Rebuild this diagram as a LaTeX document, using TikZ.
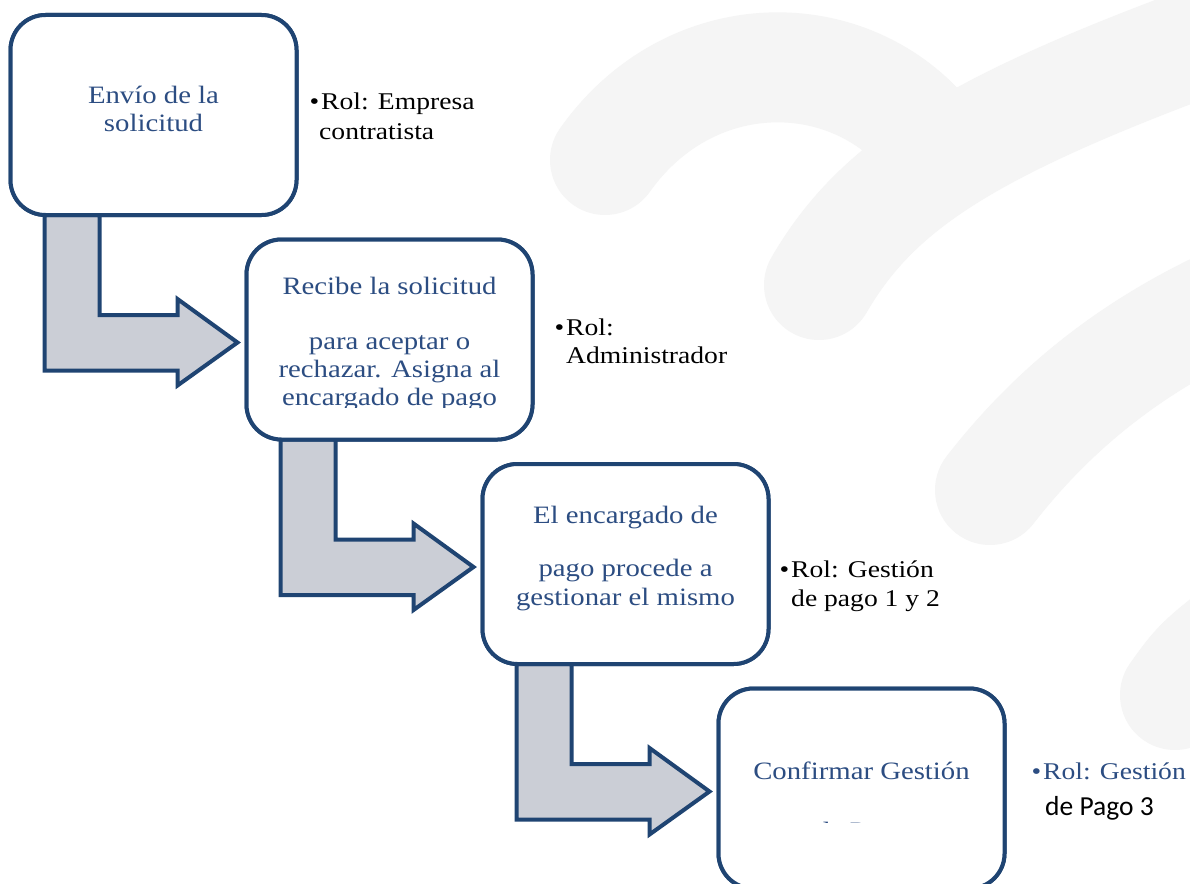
\documentclass[tikz,border=0pt]{standalone}
\usepackage{fontspec}
\newfontfamily\camb{Liberation Serif}[FakeStretch=1.15]
\newfontfamily\carl{Carlito}
\usetikzlibrary{calc}
\definecolor{navy}{RGB}{31,68,114}
\definecolor{boxtext}{RGB}{44,77,130}
\definecolor{arrowfill}{RGB}{203,206,214}
\definecolor{wm}{RGB}{245,245,245}
\tikzset{
  stepbox/.style={draw=navy, line width=4pt, fill=white, rounded corners=35pt,
    minimum width=286pt, minimum height=200pt, inner sep=0pt, outer sep=0pt},
  boxline/.style={anchor=base, text=boxtext, font=\camb\fontsize{25}{28}\selectfont, inner sep=0pt},
  rolline/.style={anchor=base west, text=black, font=\camb\fontsize{24}{29}\selectfont, inner sep=0pt},
  bent/.style={draw=navy, line width=4pt, fill=arrowfill, line join=miter},
  wmstroke/.style={draw=wm, line width=110pt, line cap=round},
}
\newcommand\bentarrow[2]{%
  \draw[bent] ($(#1.south west)+(34,0)$) -- ++(55,0) -- ++(0,100) -- ++(78,0) -- ++(0,-16)
    -- ($(#2.west)+(-9,3)$) -- ++(-60,43) -- ++(0,-15) -- ++(-133,0) -- cycle;}
\begin{document}
\begin{tikzpicture}[x=1pt,y=-1pt]
\useasboundingbox (0,0) rectangle (1190,883);
\clip (0,0) rectangle (1190,883);
\fill[white] (0,0) rectangle (1190,883);
% watermark
\draw[wmstroke] (605,160) .. controls (690,40) and (850,40) .. (930,140);
\draw[wmstroke] (819,285) .. controls (880,180) and (980,120) .. (1260,20);
\draw[wmstroke] (990,490) .. controls (1060,400) and (1150,330) .. (1280,280);
\draw[wmstroke] (1175,695) .. controls (1200,660) .. (1280,600);
% boxes
\node[stepbox] (b1) at (153.5,115) {};
\node[stepbox] (b2) at (389.5,339.5) {};
\node[stepbox] (b3) at (625.5,564) {};
\node[stepbox] (b4) at (861.5,788.5) {};
% arrows
\bentarrow{b1}{b2}
\bentarrow{b2}{b3}
\bentarrow{b3}{b4}
% redraw boxes over arrow tops
\node[stepbox] (b1x) at (b1) {};
\node[stepbox] (b2x) at (b2) {};
\node[stepbox] (b3x) at (b3) {};
\node[stepbox] (b4x) at (b4) {};
% box texts
\node[boxline] (t1a) at (153.5,103) {Envío de la};
\node[boxline] (t1b) at (153.5,131) {solicitud};
\node[boxline] (t2a) at (389.5,294) {Recibe la solicitud};
\node[boxline] (t2b) at (389.5,349) {para aceptar o};
\node[boxline] (t2c) at (389.5,377) {rechazar. Asigna al};
\begin{scope}
\clip (246,240) rectangle (533,407.5);
\node[boxline] (t2d) at (389.5,405) {encargado de pago};
\end{scope}
\node[boxline] (t3a) at (625.5,523) {El encargado de};
\node[boxline] (t3b) at (625.5,576) {pago procede a};
\node[boxline] (t3c) at (625.5,605) {gestionar el mismo};
\node[boxline] (t4a) at (861.5,779) {Confirmar Gestión};
\begin{scope}
\clip (718,688) rectangle (1005,822);
\node[boxline] (t4b) at (861.5,839) {de Pago};
\end{scope}
% role labels
\node[rolline] (r1a) at (321,109) {\llap{•\hspace{2pt}}Rol: Empresa};
\node[rolline] (r1b) at (319,139) {contratista};
\node[rolline] (r2a) at (566,335) {\llap{•\hspace{2pt}}Rol:};
\node[rolline] (r2b) at (566,363) {Administrador};
\node[rolline] (r3a) at (791,577) {\llap{•\hspace{2pt}}Rol: Gestión};
\node[rolline] (r3b) at (791,606) {de pago 1 y 2};
\node[rolline, text=boxtext] (r4a) at (1043,779) {\llap{•\hspace{2pt}}Rol: Gestión};
\node[rolline, font=\carl\fontsize{27.5}{33}\selectfont] (r4b) at (1045,815) {de Pago 3};
\end{tikzpicture}
\end{document}
